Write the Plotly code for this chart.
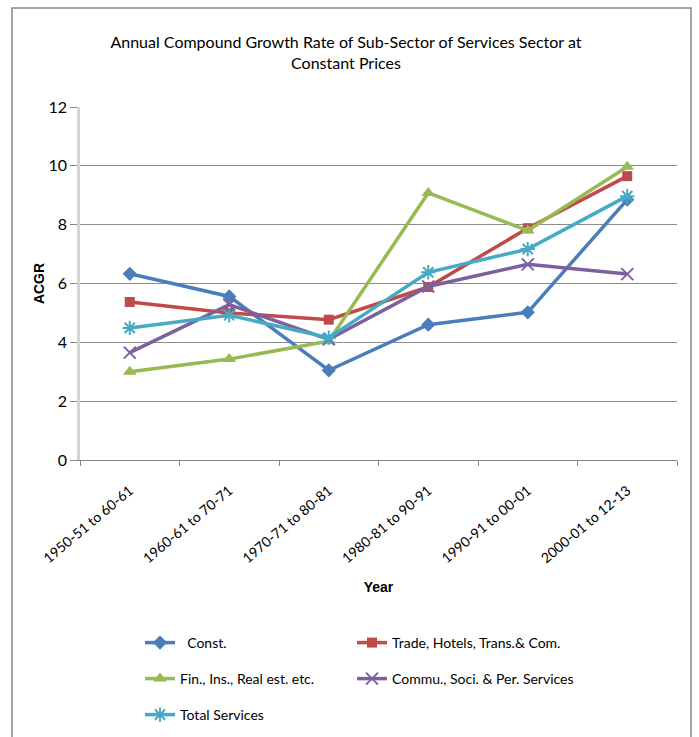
import plotly.graph_objects as go

categories = ["1950-51 to 60-61", "1960-61 to 70-71", "1970-71 to 80-81",
              "1980-81 to 90-91", "1990-91 to 00-01", "2000-01 to 12-13"]

const_vals = [6.33, 5.56, 3.05, 4.60, 5.02, 8.85]
trade_vals = [5.37, 5.00, 4.77, 5.88, 7.88, 9.65]
fin_vals = [3.00, 3.43, 4.04, 9.08, 7.80, 9.97]
commu_vals = [3.65, 5.28, 4.10, 5.90, 6.65, 6.32]
total_vals = [4.49, 4.92, 4.16, 6.38, 7.17, 8.97]

series_names = ["  Const.", "Trade, Hotels, Trans.& Com.", "Fin., Ins., Real est. etc.",
                "Commu., Soci. & Per. Services", "Total Services"]
y_ticks = [0, 2, 4, 6, 8, 10, 12]

NARROW = "Lato, Carlito, sans-serif"
BOLD = "'Liberation Sans', Arial, sans-serif"

colors = ["#4A7EBB", "#BE4B48", "#98B954", "#7D60A0", "#46AAC5"]
symbols = ["diamond", "square", "triangle-up", "x-thin-open", "asterisk-open"]
sizes = [11, 10, 12, 12, 12]
legends = ["legend", "legend2", "legend3", "legend4", "legend5"]
data = [const_vals, trade_vals, fin_vals, commu_vals, total_vals]

fig = go.Figure()
for name, vals, c, s, sz, lg in zip(series_names, data, colors, symbols, sizes, legends):
    marker = dict(symbol=s, size=sz, color=c)
    if s in ("x-thin-open", "asterisk-open"):
        marker["line"] = dict(color=c, width=2)
    fig.add_trace(go.Scatter(
        x=categories, y=vals, name=name, mode="lines+markers",
        line=dict(color=c, width=3.5), marker=marker, legend=lg,
    ))

W, H = 699, 737
L, R, T, B = 80, 22, 107, 277
pw, ph = W - L - R, H - T - B

def px_x(x):
    return (x - L) / pw

def px_y(y):
    return (H - B - y) / ph

legend_common = dict(orientation="h", xanchor="left", yanchor="middle",
                     font=dict(family=NARROW, size=14, color="#000000"),
                     bgcolor="rgba(0,0,0,0)", borderwidth=0, itemclick=False)

col_x = [140, 352]
row_y = [643, 679, 715]
leg_pos = [(col_x[0], row_y[0]), (col_x[1], row_y[0]),
           (col_x[0], row_y[1]), (col_x[1], row_y[1]),
           (col_x[0], row_y[2])]

legend_layout = {}
for lg, (lx, ly) in zip(legends, leg_pos):
    legend_layout[lg] = dict(x=px_x(lx), y=px_y(ly), **legend_common)

fig.update_layout(
    width=W, height=H,
    margin=dict(l=L, r=R, t=T, b=B, autoexpand=False),
    paper_bgcolor="white", plot_bgcolor="white",
    title=dict(
        text="Annual Compound Growth Rate of Sub-Sector of Services Sector at<br>Constant Prices",
        x=0.495, xanchor="center", xref="container",
        y=1 - 48 / H, yanchor="middle", yref="container",
        font=dict(family=NARROW, size=16, color="#000000"),
    ),
    xaxis=dict(
        type="category", range=[-0.5, 5.5], tickangle=-40, tickson="boundaries",
        ticks="outside", ticklen=5, tickcolor="#868686",
        ticklabelstandoff=16,
        showline=True, linecolor="#868686", linewidth=1,
        showgrid=False, automargin=False,
        tickfont=dict(family=NARROW, size=14, color="#000000"),
        title=dict(text="<b>Year</b>", font=dict(family=BOLD, size=14, color="#000000"), standoff=16),
    ),
    yaxis=dict(
        range=[0, 12], tickvals=y_ticks,
        ticks="outside", ticklen=7, tickcolor="#868686",
        showline=True, linecolor="#D4D4D4", linewidth=2.5,
        showgrid=True, gridcolor="#8C8C8C", gridwidth=1,
        zeroline=False, automargin=False,
        tickfont=dict(family=NARROW, size=16, color="#000000"),
        title=dict(text="<b>ACGR</b>", font=dict(family=BOLD, size=14, color="#000000"), standoff=1),
    ),
    showlegend=True,
    shapes=[dict(type="rect", xref="paper", yref="paper",
                 x0=px_x(12), x1=px_x(691), y0=px_y(745), y1=px_y(8),
                 line=dict(color="#868686", width=1.5), fillcolor="rgba(0,0,0,0)",
                 layer="below")],
    **legend_layout,
)

fig.write_html("out.html")
